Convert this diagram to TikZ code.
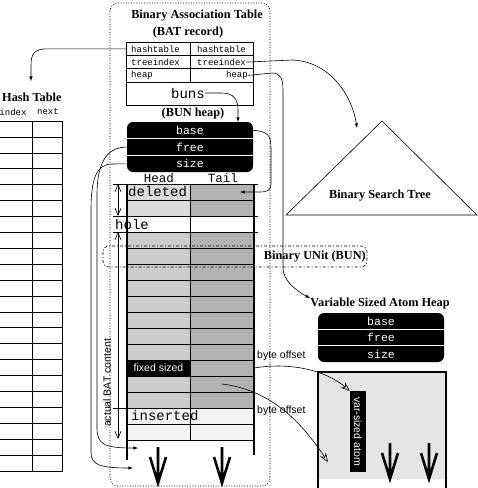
\documentclass[tikz,border=0pt]{standalone}
\usepackage{xcolor}
\usepackage{tikz}
\usepackage{fontspec}
\setmainfont{Liberation Serif}
\setsansfont{Liberation Sans}
\setmonofont{Liberation Mono}
\usetikzlibrary{arrows,arrows.meta,positioning}
\definecolor{headgray}{gray}{0.80}
\definecolor{tailgray}{gray}{0.70}
\definecolor{delgray}{gray}{0.86}
\definecolor{newgray}{gray}{0.95}
\definecolor{heapgray}{gray}{0.90}
\tikzset{basic/.style={draw,fill=none,inner sep=0pt,line width=0.6pt}}
\tikzset{cell/.style={basic,minimum width=63.5pt,minimum height=16pt}}

\begin{document}
\begin{tikzpicture}[x=1pt,y=-1pt,>=latex,
      % styles for clarity
      title/.style  ={font=\fontsize{12.3}{14}\selectfont\bfseries, inner sep=0pt},
      field/.style  ={font=\fontsize{9}{10}\selectfont\ttfamily, inner sep=0pt},
      bigtt/.style  ={font=\fontsize{14}{15}\selectfont\ttfamily, inner sep=0pt},
      colhead/.style={font=\fontsize{12.5}{13}\selectfont\ttfamily, inner sep=0pt},
      regtt/.style  ={font=\fontsize{11.5}{13}\selectfont\ttfamily, text=white,
                      inner sep=0pt, minimum width=126pt, minimum height=16pt},
      note/.style   ={font=\fontsize{10.5}{12}\selectfont\sffamily, inner sep=0pt},
      dots/.style   ={dash pattern=on 1pt off 1.6pt, line width=0.6pt},
      dashdot/.style={dash pattern=on 3pt off 2pt on 1pt off 2pt, line width=0.6pt},
      ptr/.style    ={->, line width=0.6pt},
      offs/.style   ={-{Stealth[open,length=9pt,width=7pt]}, line width=0.6pt},
      span/.style   ={{Straight Barb[length=7pt,width=6pt]}-{Straight Barb[length=7pt,width=6pt]},
                      line width=0.6pt},
      growarrow/.style={line width=2.6pt, line join=miter},
      wall/.style   ={line width=1.8pt}
    ]
    \clip (0,0) rectangle (478,488);

    % BAT frame
    \draw[dots, rounded corners=8pt] (110,3) rectangle (270,486);
    \node[title] (battitle) at (197,16) {Binary Association Table};
    \node[title] (batrec)   at (188,33) {(BAT record)};

    % BAT record
    \foreach \f [count=\i] in {hashtable,treeindex,heap}{
      \node[cell, minimum width=64pt, minimum height=13.3pt] (recl\i) at (158,35.5+13.3*\i) {};
      \node[cell, minimum width=63pt, minimum height=13.3pt] (recr\i) at (221.5,35.5+13.3*\i) {};
      \node[field, anchor=west] (fl\i) at (131,35.5+13.3*\i) {\f};
    }
    \node[field, anchor=west] (fr1) at (197,48.8) {hashtable};
    \node[field, anchor=west] (fr2) at (197,62.1) {treeindex};
    \node[field, anchor=east] (fr3) at (248,75.4) {heap};
    \node[cell, minimum width=127pt, minimum height=23pt] (buncell) at (189.5,93.5) {};
    \node[bigtt] (buns) at (188,93) {buns};

    % BUN heap
    \node[title] (bunheap) at (193,114) {(BUN heap)};
    \fill[rounded corners=6pt] (127,122) rectangle (253,172);
    \foreach \f [count=\i] in {base,free,size}{
      \node[regtt] (bun\f) at (190,113.7+16.7*\i) {\f};
    }
    \draw[white, line width=0.8pt] (127,138.7) -- (253,138.7) (127,155.4) -- (253,155.4);

    % BUN table
    \node[colhead] (head) at (159,178) {Head};
    \node[colhead] (tail) at (223,178) {Tail};
    \foreach \hf/\tf [count=\i] in {delgray/tailgray,delgray/tailgray,white/white,
        headgray/tailgray,headgray/tailgray,headgray/tailgray,headgray/tailgray,
        headgray/tailgray,headgray/tailgray,headgray/tailgray,headgray/tailgray,
        headgray/tailgray,headgray/tailgray,headgray/tailgray,
        newgray/newgray,newgray/newgray}{
      \node[cell, fill=\hf] (h\i) at (158.5,176+16*\i) {};
      \node[cell, fill=\tf] (t\i) at (222,176+16*\i) {};
    }
    \draw[wall] (127,184) -- (127,460);
    \draw[wall] (254,184) -- (254,455);
    \draw[basic] (113,184) -- (258,184) (113,216) -- (258,216)
                 (113,232) -- (258,232) (113,408) -- (127,408);
    \node[bigtt, anchor=west] (deleted)  at (128,192) {deleted};
    \node[bigtt, anchor=west] (hole)     at (115,224) {hole};
    \node[bigtt, anchor=west] (inserted) at (131,416) {inserted};
    \node[note, fill=black, text=white, minimum width=63.5pt, minimum height=16pt]
      (fixed) at (h12) {fixed sized};

    % extents
    \coordinate (deltop) at (118,184);
    \coordinate (delbot) at (118,216);
    \coordinate (cnttop) at (118,232);
    \coordinate (cntbot) at (118,439);
    \draw[span] (deltop) -- (delbot);
    \draw[span] (cnttop) -- (cntbot);
    \node[note, rotate=90] (content) at (107,383) {actual BAT content};

    % one BUN
    \draw[dashdot, rounded corners=6pt] (103,246) rectangle (367,267);
    \node[title, anchor=east] (bun) at (366,256.5) {Binary UNit (BUN)};

    % hash table
    \node[title, anchor=west] (hash) at (2,97) {Hash Table};
    \node[field] (idx) at (13,112) {index};
    \node[field] (nxt) at (48,112) {next};
    \foreach \i in {1,...,22}{
      \node[basic, minimum width=42pt, minimum height=15.9pt] (hi\i) at (11,113.05+15.9*\i) {};
      \node[basic, minimum width=30pt, minimum height=15.9pt] (hn\i) at (47,113.05+15.9*\i) {};
    }

    % search tree
    \draw[basic] (382,121) -- (286,215) -- (477,215) -- cycle;
    \node[title] (bst) at (380,196) {Binary Search Tree};

    % var heap
    \node[title] (vtitle) at (380,304) {Variable Sized Atom Heap};
    \fill[rounded corners=6pt] (318,313) rectangle (444,362);
    \foreach \f [count=\i] in {base,free,size}{
      \node[regtt] (var\f) at (381,305+16.3*\i) {\f};
    }
    \draw[white, line width=0.8pt] (318,329.5) -- (444,329.5) (318,345.8) -- (444,345.8);
    \fill[heapgray] (318,372) rectangle (446,479);
    \draw[wall] (318,492) -- (318,372) -- (446,372) -- (446,492);
    \node[note, fill=black, text=white, rotate=-90, minimum width=81pt, minimum height=16pt]
      (atom) at (358,431.5) {var-sized atom};

    % growth
    \foreach \x/\top/\bot in {158/447/483, 222/447/483, 390/443/479, 429/443/479}{
      \draw[growarrow] (\x,\top) -- (\x,\bot) (\x-8,\top+10) -- (\x,\bot) -- (\x+8,\top+10);
    }

    % byte offsets
    \node[note, anchor=west] (off1) at (257,356) {byte offset};
    \node[note, anchor=west] (off2) at (257,411) {byte offset};
    \coordinate (atomfoot) at (328,462);
    \draw[offs] (t12.east) .. controls (290,362) and (325,370) .. (atom.south west);
    \draw[offs] (t13.center) .. controls (270,390) and (300,420) .. (atomfoot);

    % pointers
    \coordinate (htin)    at (31,81);
    \coordinate (bstin)   at (357,128);
    \coordinate (basetop) at (238,122);
    \coordinate (delptr)  at (240,192);
    \coordinate (freeend) at (138,448);
    \coordinate (sizeend) at (133,468);
    \draw[ptr] (recl1.west) -- (48,48.8) .. controls (33,48.8) and (31,55) .. (31,66) -- (htin);
    \draw[ptr] (fr2.east) -- (293,60) .. controls (330,62) and (352,95) .. (bstin);
    \draw[ptr] (fr3.east) -- (272,73) .. controls (280,73) and (283,78) .. (283,90)
      -- (283,268) .. controls (283,280) and (295,290) .. (vtitle.north west);
    \draw[ptr] (buns.east) -- (222,93) .. controls (234,93) and (238,100) .. (238,110) -- (basetop);
    \draw[ptr] (bunbase.east) .. controls (268,131) and (271,136) .. (271,148)
      -- (271,184) .. controls (271,191) and (266,192) .. (260,192) -- (delptr);
    \draw[ptr] (bunfree.west) .. controls (110,147) and (97,158) .. (97,195)
      -- (97,428) .. controls (97,445) and (105,448) .. (freeend);
    \draw[ptr] (bunsize.west) -- (112,164) .. controls (96,164) and (91,180) .. (91,210)
      -- (91,452) .. controls (91,465) and (100,468) .. (sizeend);
  \end{tikzpicture}
\end{document}
